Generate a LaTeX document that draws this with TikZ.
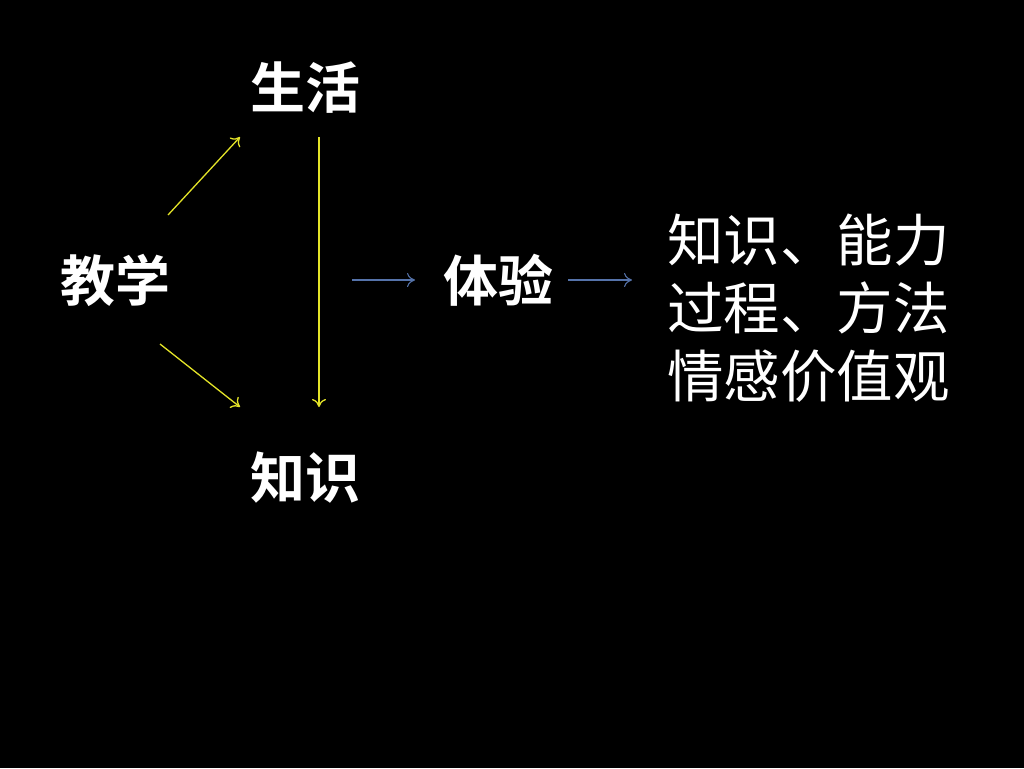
\documentclass[tikz,border=0pt]{standalone}
\usepackage{fontspec}
\newfontfamily\cjk{Noto Sans CJK SC}
\newfontfamily\cjkb{Noto Sans CJK SC Bold}
\usetikzlibrary{arrows.meta}
\definecolor{arrY}{RGB}{228,228,40}
\definecolor{arrB}{RGB}{85,115,170}
\begin{document}
\begin{tikzpicture}[x=1pt,y=-1pt,
  lbl/.style={text=white,font=\cjkb\fontsize{55}{60}\selectfont,inner sep=0pt},
  blk/.style={text=white,font=\cjk\fontsize{56.5}{68}\selectfont,inner sep=0pt,align=left,anchor=west},
  ya/.style={draw=arrY,line width=1.3pt,-{To[length=8pt,width=14pt]}},
  ba/.style={draw=arrB,line width=1.1pt,-{To[length=8pt,width=14pt]}}]
\fill[black] (0,0) rectangle (1024,768);
\useasboundingbox (0,0) rectangle (1024,768);
\node[lbl] (sh) at (305,88) {生活};
\node[lbl] (jx) at (115,280) {教学};
\node[lbl] (ty) at (498,280) {体验};
\node[lbl] (zs) at (305,478) {知识};
\node[blk] (gl) at (667,308) {知识、能力\\过程、方法\\情感价值观};
\coordinate (a1s) at (168,215); \coordinate (a1e) at (240,137);
\coordinate (a2s) at (160,344); \coordinate (a2e) at (240,407);
\coordinate (a3s) at (319,137); \coordinate (a3e) at (319,407);
\coordinate (b1s) at (352,280); \coordinate (b1e) at (415,280);
\coordinate (b2s) at (568,280); \coordinate (b2e) at (632,280);
\draw[ya] (a1s) -- (a1e);
\draw[ya] (a2s) -- (a2e);
\draw[ya] (a3s) -- (a3e);
\draw[ba] (b1s) -- (b1e);
\draw[ba] (b2s) -- (b2e);
\end{tikzpicture}
\end{document}
